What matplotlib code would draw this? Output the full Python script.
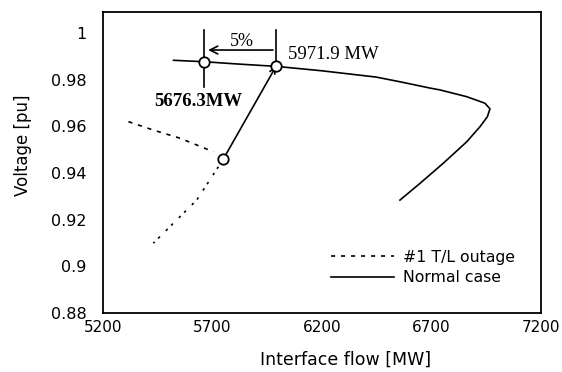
import matplotlib
matplotlib.use("Agg")
import matplotlib.pyplot as plt

# Normal case P-V curve
normal_x = [5522, 5660, 5800, 5990, 6200, 6448, 6556, 6693, 6739, 6861, 6944, 6967,
            6955, 6922, 6861, 6754, 6648, 6556]
normal_y = [0.9883, 0.9877, 0.9868, 0.9857, 0.9838, 0.9811, 0.9791, 0.9764, 0.9756,
            0.9727, 0.9699, 0.9675, 0.9641, 0.9599, 0.9534, 0.9442, 0.9356, 0.9284]

# #1 T/L outage curve (upper and lower branches)
outage_upper_x = [5316, 5430, 5552, 5704]
outage_upper_y = [0.962, 0.9584, 0.9549, 0.9491]
outage_lower_x = [5727, 5628, 5544, 5430]
outage_lower_y = [0.9427, 0.9284, 0.9206, 0.9099]

# operating-point trajectory (outage point -> normal point)
traj_x = [5749, 5990]
traj_y = [0.9459, 0.9857]

# marked points
marker_x = [5660, 5990, 5749]
marker_y = [0.9877, 0.9857, 0.9459]

# vertical reference lines
vline_x = [5660, 5990]
vline_top = [1.0013, 1.0013]
vline_bottom = [0.977, 0.9845]

# 5 % arrow
arrow_from = (5976, 0.9927)
arrow_to = (5680, 0.9927)

x_ticks = [5200, 5700, 6200, 6700, 7200]
x_tick_labels = ["5200", "5700", "6200", "6700", "7200"]
y_ticks = [0.88, 0.90, 0.92, 0.94, 0.96, 0.98, 1.00]
y_tick_labels = ["0.88", "0.9", "0.92", "0.94", "0.96", "0.98", "1"]

fig = plt.figure(figsize=(5.62, 3.72), dpi=100)
ax = fig.add_axes([103 / 562, 1 - 313 / 372, 438 / 562, 301 / 372])

lw = 1.2
ax.plot(outage_upper_x, outage_upper_y, color="black", lw=lw, linestyle=(0, (2.5, 3.5)),
        label="#1 T/L outage")
ax.plot(outage_lower_x, outage_lower_y, color="black", lw=lw, linestyle=(0, (1.5, 3, 1.5, 5)))
ax.plot(normal_x, normal_y, color="black", lw=lw, label="Normal case")

ax.annotate("", xy=(traj_x[1], traj_y[1]), xytext=(traj_x[0], traj_y[0]),
            arrowprops=dict(arrowstyle="->", color="black", lw=lw,
                            shrinkA=0, shrinkB=0, mutation_scale=10))

for xv, yt, yb in zip(vline_x, vline_top, vline_bottom):
    ax.plot([xv, xv], [yb, yt], color="black", lw=lw)

ax.plot(marker_x, marker_y, linestyle="none", marker="o", markersize=7.5,
        markerfacecolor="white", markeredgecolor="black", markeredgewidth=1.3, zorder=5)

ax.annotate("", xy=arrow_to, xytext=arrow_from,
            arrowprops=dict(arrowstyle="->", color="black", lw=lw,
                            shrinkA=0, shrinkB=0, mutation_scale=14))

serif = "Liberation Serif"
ax.text(5833, 0.9963, "5%", family=serif, fontsize=13, ha="center", va="center")
ax.text(6047, 0.9907, "5971.9 MW", family=serif, fontsize=13.5, ha="left", va="center")
ax.text(5633, 0.9707, "5676.3MW", family=serif, fontsize=13.5, fontweight="bold",
        ha="center", va="center")

ax.set_xlim(5200, 7200)
ax.set_ylim(0.88, 1.009)
ax.set_xticks(x_ticks)
ax.set_xticklabels(x_tick_labels)
ax.set_yticks(y_ticks)
ax.set_yticklabels(y_tick_labels)
ax.tick_params(axis="both", length=0)
ax.tick_params(axis="x", pad=5, labelsize=11)
ax.tick_params(axis="y", pad=12, labelsize=11.5)

for s in ax.spines.values():
    s.set_linewidth(1.3)
    s.set_color("black")

ax.set_xlabel("Interface flow [MW]", fontsize=12.5)
ax.xaxis.label.set_va("center")
ax.xaxis.set_label_coords(0.553, -0.156)
ax.set_ylabel("Voltage [pu]", fontsize=12)
ax.yaxis.label.set_va("center")
ax.yaxis.set_label_coords(-0.183, 0.558)

leg = ax.legend(loc="upper left", bbox_to_anchor=(0.52, 0.21), frameon=False,
                fontsize=11.3, handlelength=4.0, handletextpad=0.6,
                borderpad=0, borderaxespad=0, labelspacing=0.35)

fig.savefig("out.png", dpi=100)
